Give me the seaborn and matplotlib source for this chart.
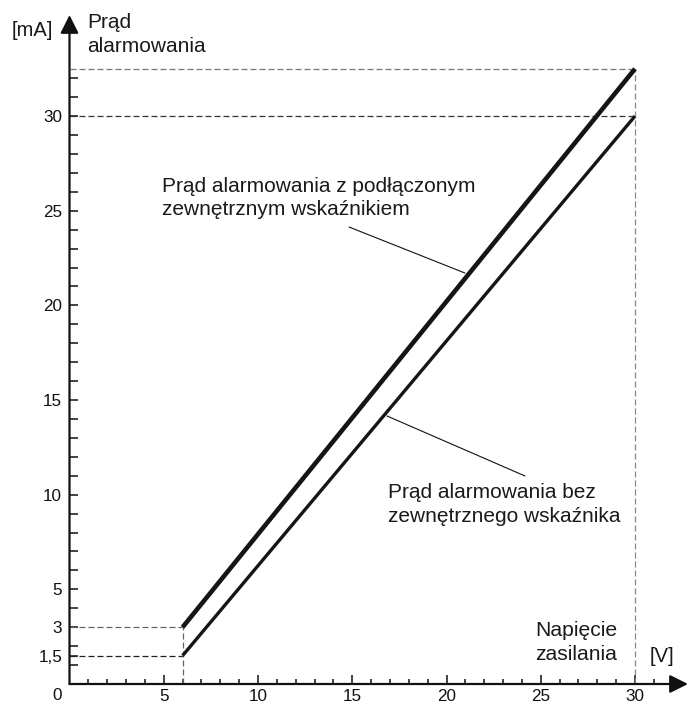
import matplotlib
matplotlib.use("Agg")
import matplotlib.pyplot as plt
import seaborn as sns
import pandas as pd

# ---- data ----
voltage = [6, 30]
current_with_indicator = [3, 32.5]
current_without_indicator = [1.5, 30]

x_major = [5, 10, 15, 20, 25, 30]
x_minor = [v for v in range(1, 32) if v not in x_major]
y_major = [1.5, 3, 5, 10, 15, 20, 25, 30]
y_major_labels = ["1,5", "3", "5", "10", "15", "20", "25", "30"]
y_minor = [v for v in range(1, 33) if v not in y_major]

label_with = "Prąd alarmowania z podłączonym\nzewnętrznym wskaźnikiem"
label_without = "Prąd alarmowania bez\nzewnętrznego wskaźnika"

sns.set_theme(style="white")
plt.rcParams["font.family"] = ["Liberation Sans", "DejaVu Sans"]

W, H = 690, 704
fig = plt.figure(figsize=(W / 100, H / 100), dpi=100)
x0px, x1px = 69.5, 688
y0px, y1px = 684, 15
ax = fig.add_axes([x0px / W, (H - y0px) / H, (x1px - x0px) / W, (y0px - y1px) / H])
XMAX = (x1px - x0px) / 18.85
YMAX = (y0px - y1px) / 18.93
ax.set_xlim(0, XMAX)
ax.set_ylim(0, YMAX)
ax.set_facecolor("white")
for s in ax.spines.values():
    s.set_visible(False)

# axes with arrows
arrow_kw = dict(arrowstyle="-|>,head_length=1.1,head_width=0.55", mutation_scale=10,
                lw=1.6, color="#111111", shrinkA=0, shrinkB=0)
ax.annotate("", xy=(XMAX, 0), xytext=(0, 0), arrowprops=arrow_kw, annotation_clip=False)
ax.annotate("", xy=(0, YMAX), xytext=(0, 0), arrowprops=arrow_kw, annotation_clip=False)

# dashed reference lines
dash = (0, (4.8, 2.4))
ax.hlines(current_with_indicator[1], 0, voltage[1], colors="#777777", lw=0.9, linestyles=[dash])
ax.hlines(current_without_indicator[1], 0, voltage[1], colors="#333333", lw=0.9, linestyles=[dash])
ax.vlines(voltage[1], 0, current_with_indicator[1], colors="#888888", lw=0.9, linestyles=[dash])
ax.hlines(current_with_indicator[0], 0, voltage[0], colors="#666666", lw=0.9, linestyles=[dash])
ax.hlines(current_without_indicator[0], 0, voltage[0], colors="#222222", lw=0.9, linestyles=[dash])
ax.vlines(voltage[0], 0, current_with_indicator[0], colors="#666666", lw=0.9, linestyles=[dash])

# main lines
df = pd.DataFrame({"U": voltage, "I_with": current_with_indicator, "I_without": current_without_indicator})
sns.lineplot(data=df, x="U", y="I_with", ax=ax, color="#151515", lw=3.3, solid_capstyle="butt")
sns.lineplot(data=df, x="U", y="I_without", ax=ax, color="#151515", lw=2.4, solid_capstyle="butt")
ax.set_xlabel("")
ax.set_ylabel("")

# ticks
ax.set_xticks(x_major)
ax.set_xticks(x_minor, minor=True)
ax.set_yticks(y_major)
ax.set_yticklabels(y_major_labels)
ax.set_yticks(y_minor, minor=True)
ax.tick_params(axis="both", which="both", direction="in", color="#111111", width=1.1,
               labelsize=12.3, labelcolor="#111111", bottom=True, left=True,
               top=False, right=False)
ax.tick_params(axis="x", which="major", length=6.5, pad=3.6)
ax.tick_params(axis="x", which="minor", length=3.8)
ax.tick_params(axis="y", which="major", length=6.0, pad=5.4)
ax.tick_params(axis="y", which="minor", length=5.5)
ax.annotate("0", xy=(0, 0), xytext=(-9, -8), textcoords="offset points",
            ha="center", va="center", fontsize=12.3, color="#111111", annotation_clip=False)

# leader lines
ax.plot([14.83, 20.98], [24.14, 21.71], color="#111111", lw=0.8)
ax.plot([16.84, 24.16], [14.16, 10.99], color="#111111", lw=0.8)

def fx(px):
    return px / W

def fy(py):
    return 1 - py / H

txt = dict(color="#1a1a1a", ha="left", va="baseline")
fig.text(fx(162), fy(215), label_with, fontsize=15, linespacing=1.3, **txt)
fig.text(fx(388), fy(522), label_without, fontsize=15, linespacing=1.3, **txt)
fig.text(fx(12), fy(36), "[mA]", fontsize=14.5, **txt)
fig.text(fx(87), fy(52), "Prąd\nalarmowania", fontsize=15, linespacing=1.3, **txt)
fig.text(fx(535), fy(660), "Napięcie\nzasilania", fontsize=15.2, linespacing=1.3, **txt)
fig.text(fx(650), fy(662), "[V]", fontsize=14.5, **txt)

fig.savefig("out.png", dpi=100, facecolor="white")
